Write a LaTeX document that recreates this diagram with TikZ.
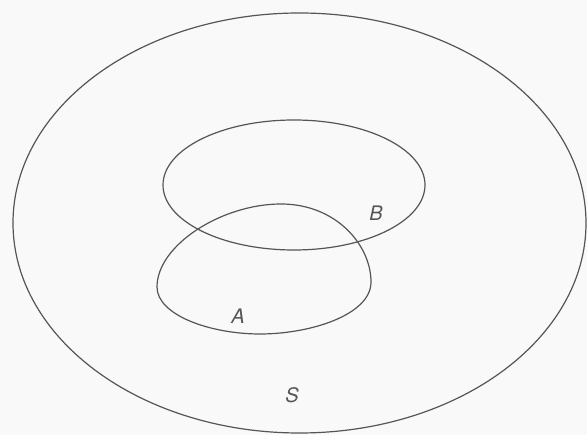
\documentclass[tikz,border=0pt]{standalone}
\usepackage{fontspec}
\setmainfont{TeX Gyre Heros}
\usepackage{tikz}
\definecolor{inkgrey}{HTML}{555555}
\definecolor{paper}{HTML}{F9F9F9}

\begin{document}
\begin{tikzpicture}[x=1pt,y=-1pt,
  setline/.style={draw=inkgrey,line width=1.2pt},
  setlbl/.style={font=\fontsize{20}{24}\selectfont\itshape,text=inkgrey,inner sep=0pt}]

\fill[paper] (0,0) rectangle (587,435);
\useasboundingbox (0,0) rectangle (587,435);

% sample space and the two events
\draw[setline] (299.5,223) ellipse [x radius=286.5,y radius=210];
\draw[setline] (294,185) ellipse [x radius=131,y radius=65];
\draw[setline] (281,204) .. controls (336,204) and (371,245) .. (371,282)
  .. controls (371,315) and (310,334) .. (260,334)
  .. controls (210,334) and (157,315) .. (157,287)
  .. controls (157,245) and (222,204) .. cycle;

\node[setlbl] (lblB) at (376,213) {B};
\node[setlbl] (lblA) at (238,316) {A};
\node[setlbl] (lblS) at (292,395) {S};
\end{tikzpicture}
\end{document}
